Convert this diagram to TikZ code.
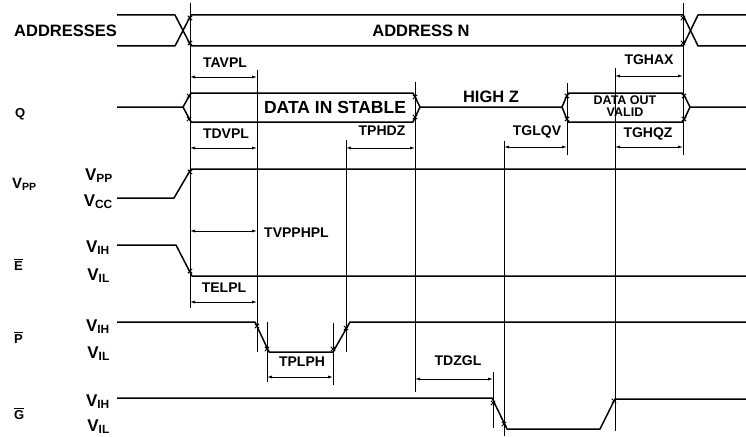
\documentclass[tikz,border=0pt]{standalone}
\usepackage{fontspec}
\setmainfont{Liberation Sans}
\usetikzlibrary{arrows.meta}
\begin{document}
\begin{tikzpicture}[x=1pt,y=-1pt,
  sig/.style={line width=1.5pt, line join=round},
  guide/.style={line width=0.8pt},
  tick/.style={line width=0.9pt},
  dim/.style={line width=0.8pt, {Latex[length=5pt,width=3pt]}-{Latex[length=5pt,width=3pt]}},
  big/.style={inner sep=0pt, font=\fontsize{16.5}{18}\selectfont\bfseries},
  tlab/.style={inner sep=0pt, anchor=base, font=\fontsize{14}{16}\selectfont\bfseries},
  vlab/.style={inner sep=0pt, anchor=base east, font=\fontsize{17}{18}\selectfont\bfseries},
  sname/.style={inner sep=0pt, anchor=base west, font=\fontsize{13}{14}\selectfont\bfseries},
  small/.style={inner sep=0pt, align=center, font=\fontsize{12.5}{12}\selectfont\bfseries}]
\useasboundingbox (0,0) rectangle (746,436);
\fill[white] (0,0) rectangle (746,436);

% ---- signal names ----
\node[big, anchor=base west] (nAddr) at (14,37) {ADDRESSES};
\node[sname] (nQ) at (15,117) {Q};
\node[sname, font=\fontsize{15}{16}\selectfont\bfseries] (nVpp) at (12,188) {V\textsubscript{PP}};
\node[sname] (nE) at (14,270) {$\overline{\mbox{E}}$};
\node[sname] (nP) at (14,343) {$\overline{\mbox{P}}$};
\node[sname] (nG) at (14,419) {$\overline{\mbox{G}}$};

% ---- level labels ----
\node[vlab] (lVpp) at (113,180) {V\textsubscript{PP}};
\node[vlab] (lVcc) at (113,206) {V\textsubscript{CC}};
\node[vlab] (lEih) at (110,252) {V\textsubscript{IH}};
\node[vlab] (lEil) at (110,280) {V\textsubscript{IL}};
\node[vlab] (lPih) at (110,331) {V\textsubscript{IH}};
\node[vlab] (lPil) at (110,358) {V\textsubscript{IL}};
\node[vlab] (lGih) at (110,406) {V\textsubscript{IH}};
\node[vlab] (lGil) at (110,431) {V\textsubscript{IL}};

% ---- waveforms ----
% addresses
\draw[sig] (117,15) -- (175,15) -- (191,46) -- (683,46) -- (698,15) -- (746,15);
\draw[sig] (117,46) -- (175,46) -- (191,15) -- (683,15) -- (698,46) -- (746,46);
\node[big, anchor=base] (tAddrN) at (421,37) {ADDRESS N};
% Q
\draw[sig] (117,107) -- (183,107) -- (191,93) -- (413,93) -- (420,107) -- (562,107)
  -- (568,93) -- (683,93) -- (690,107) -- (746,107);
\draw[sig] (183,107) -- (191,122) -- (413,122) -- (420,107);
\draw[sig] (562,107) -- (568,122) -- (683,122) -- (690,107);
\node[big, anchor=base, font=\fontsize{17.5}{18}\selectfont\bfseries] (tDin) at (335,113) {DATA IN STABLE};
\node[big, anchor=base] (tHz) at (491,102) {HIGH Z};
\node[small] (tDout) at (625,106) {DATA OUT\\VALID};
% Vpp
\draw[sig] (117,198) -- (174,198) -- (191,169) -- (746,169);
% E
\draw[sig] (117,245) -- (176,245) -- (192,276) -- (746,276);
% P
\draw[sig] (117,322) -- (255,322) -- (269,352) -- (333,352) -- (350,322) -- (746,322);
% G
\draw[sig] (117,398) -- (492,398) -- (507,429) -- (600,429) -- (615,399) -- (746,399);

% ---- reference verticals ----
\coordinate (a1) at (190,3);   \coordinate (a2) at (190,308);
\coordinate (b1) at (257,70);  \coordinate (b2) at (257,352);
\coordinate (c1) at (267,322); \coordinate (c2) at (267,382);
\coordinate (d1) at (333,323); \coordinate (d2) at (333,385);
\coordinate (e1) at (346,140); \coordinate (e2) at (346,352);
\coordinate (f1) at (415,82);  \coordinate (f2) at (415,392);
\coordinate (g1) at (493,372); \coordinate (g2) at (493,428);
\coordinate (h1) at (504,141); \coordinate (h2) at (504,436);
\coordinate (i1) at (567,83);  \coordinate (i2) at (567,155);
\coordinate (j1) at (615,68);  \coordinate (j2) at (615,431);
\coordinate (k1) at (683,3);   \coordinate (k2) at (683,155);
\foreach \p in {a,b,c,d,e,f,g,h,i,j,k} \draw[guide] (\p1) -- (\p2);

% ---- crossing marks ----
\foreach \q in {(190,18),(190,43),(683,18),(683,43),(189,96),(189,119),
  (415,97),(415,117),(567,96),(567,119),(684,96),(684,119),(190,172),(190,271),
  (257,326),(267,349),(333,349),(346,328),(493,403),(504,424),(614,401)}
  \draw[tick] \q +(-2.2,-2.2) -- +(2.2,2.2) +(-2.2,2.2) -- +(2.2,-2.2);

% ---- timing intervals ----
\draw[dim] (190,77) -- (257,77);
\node[tlab] (tTAVPL) at (225,67) {TAVPL};
\draw[dim] (190,148) -- (257,148);
\node[tlab] (tTDVPL) at (226,138) {TDVPL};
\draw[dim] (190,231) -- (257,231);
\node[tlab, anchor=base west] (tTVPP) at (264,237) {TVPPHPL};
\draw[dim] (190,302) -- (257,302);
\node[tlab] (tTELPL) at (224,292) {TELPL};
\draw[dim] (267,377) -- (333,377);
\node[tlab] (tTPLPH) at (302,366) {TPLPH};
\draw[dim] (346,148) -- (415,148);
\node[tlab] (tTPHDZ) at (382,135) {TPHDZ};
\draw[dim] (415,379) -- (493,379);
\node[tlab] (tTDZGL) at (458,365) {TDZGL};
\draw[dim] (504,147) -- (567,147);
\node[tlab] (tTGLQV) at (537,135) {TGLQV};
\draw[dim] (615,76) -- (683,76);
\node[tlab] (tTGHAX) at (649,64) {TGHAX};
\draw[dim] (615,147) -- (683,147);
\node[tlab] (tTGHQZ) at (648,137) {TGHQZ};
\end{tikzpicture}
\end{document}
